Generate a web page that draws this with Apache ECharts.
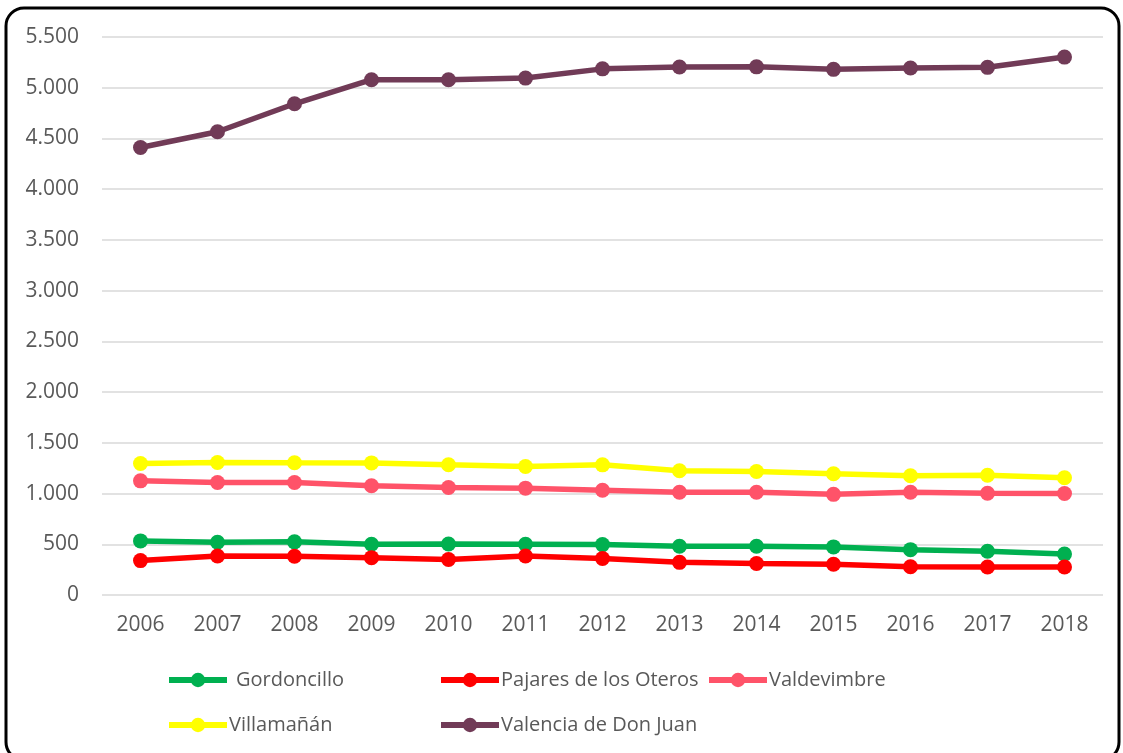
<!DOCTYPE html>
<html>
<head>
<meta charset="utf-8">
<script src="https://cdn.jsdelivr.net/npm/echarts@6/dist/echarts.min.js"></script>
<style>
html,body{margin:0;padding:0;background:#fff;}
#chart{width:1123px;height:753px;}
</style>
</head>
<body>
<div id="chart"></div>
<script>
const years = ['2006','2007','2008','2009','2010','2011','2012','2013','2014','2015','2016','2017','2018'];
const gordoncillo = [533, 520, 524, 500, 502, 500, 497, 480, 480, 474, 447, 431, 403];
const pajares = [339, 385, 382, 368, 350, 385, 360, 322, 310, 303, 278, 276, 276];
const valdevimbre = [1125, 1109, 1109, 1077, 1060, 1053, 1033, 1013, 1013, 992, 1013, 1003, 1000];
const villamanan = [1296, 1306, 1303, 1302, 1284, 1267, 1283, 1224, 1218, 1195, 1176, 1181, 1156];
const valencia = [4411, 4566, 4842, 5079, 5079, 5095, 5186, 5204, 5206, 5181, 5194, 5201, 5302];
const yTicks = [0, 500, 1000, 1500, 2000, 2500, 3000, 3500, 4000, 4500, 5000, 5500];

const names = ['Gordoncillo', 'Pajares de los Oteros', 'Valdevimbre', 'Villamañán', 'Valencia de Don Juan'];
const values = [gordoncillo, pajares, valdevimbre, villamanan, valencia];
const colors = ['#00B050', '#FF0000', '#FF5369', '#FFFF00', '#713B57'];

const FONT = '"Open Sans", "Noto Sans", sans-serif';
const chart = echarts.init(document.getElementById('chart'), null, {renderer: 'canvas'});

const legendPos = [[166, 670], [438, 670], [706, 670], [166, 715], [438, 715]];
const legends = names.map((n, i) => ({
  data: [n],
  left: legendPos[i][0],
  top: legendPos[i][1],
  padding: 0,
  itemWidth: 58,
  itemHeight: 18,
  lineStyle: {width: 6},
  textStyle: {color: '#595959', fontSize: 20, fontFamily: FONT, padding: [0, 0, 0, i === 0 ? 4 : -3]},
  selectedMode: false
}));

const option = {
  backgroundColor: '#fff',
  animation: false,
  graphic: [{
    type: 'rect',
    shape: {x: 6, y: 8, width: 1113, height: 752, r: 18},
    style: {fill: 'none', stroke: '#000', lineWidth: 3},
    z: 100
  }],
  legend: legends,
  grid: {left: 102, right: 20, top: 37, bottom: 158, containLabel: false},
  xAxis: {
    type: 'category',
    data: years,
    boundaryGap: true,
    axisLine: {show: false},
    axisTick: {show: false},
    axisLabel: {color: '#595959', fontSize: 21, fontFamily: FONT, margin: 20}
  },
  yAxis: {
    type: 'value',
    min: 0,
    max: 5500,
    interval: 500,
    axisLine: {show: false},
    axisTick: {show: false},
    splitLine: {lineStyle: {color: '#D9D9D9', width: 1.5}},
    axisLabel: {
      color: '#595959', fontSize: 21, fontFamily: FONT, margin: 23,
      formatter: v => v.toLocaleString('de-DE')
    }
  },
  series: names.map((n, i) => ({
    name: n,
    type: 'line',
    data: values[i],
    symbol: 'circle',
    symbolSize: 15,
    color: colors[i],
    lineStyle: {width: 5.5, color: colors[i]},
    itemStyle: {color: colors[i]},
    z: 2 + i
  }))
};
chart.setOption(option);
</script>
</body>
</html>
